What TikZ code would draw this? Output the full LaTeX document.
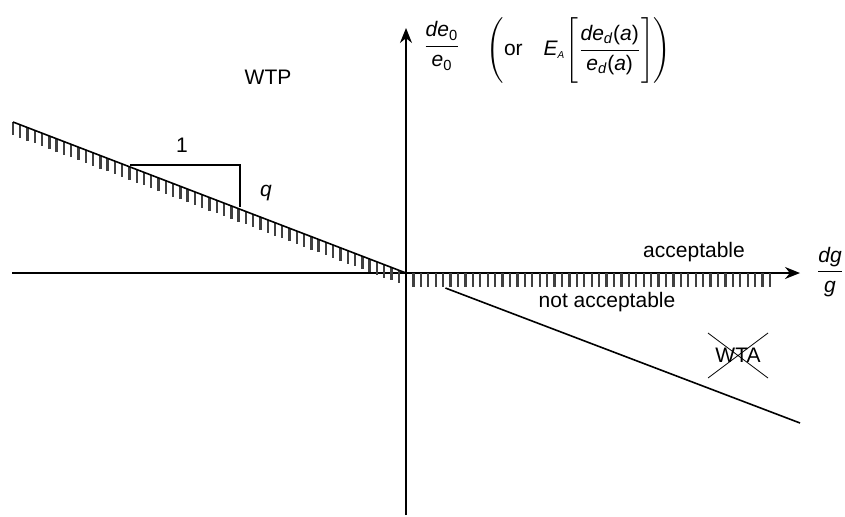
\documentclass[tikz,border=0pt]{standalone}
\usepackage{amsmath}
\usepackage{fontspec}
\setmainfont{Liberation Sans}
\usetikzlibrary{arrows.meta,calc}

\begin{document}
\begin{tikzpicture}[x=0.5pt,y=-0.5pt,>={Stealth[length=7.5pt,width=6pt]},
 axis/.style={->,line width=.8pt},
 edge/.style={line width=.8pt},
 hatch/.style={line width=1.2pt,black!75},
 lbl/.style={font=\fontsize{10.5}{12}\selectfont,inner sep=1pt}]
\useasboundingbox (0,0) rectangle (845,516);
% axes
\coordinate (O) at (406,273);
\coordinate (xstart) at (12,273);
\coordinate (xend) at (800,273);
\coordinate (ybot) at (406,515);
\coordinate (ytop) at (406,28);
\draw[edge] (xstart)--(O);
\draw[axis] (O)--(xend);
\draw[axis] (ybot)--(ytop);
% WTP boundary with hatching
\coordinate (wtp) at (13,122);
\coordinate (hend) at (770,273);
\coordinate (wta) at (800,423);
\foreach \i in {0,...,53} \draw[hatch] ($(wtp)!\i/54!(O)$)--++(0,13);
\foreach \i in {1,...,49} \draw[hatch] ($(O)!\i/49!(hend)$)--++(0,14);
\draw[edge] (wtp)--(O);
\draw[edge] ($(O)!0.1!(wta)$)--(wta);
% slope triangle
\coordinate (ta) at (130,165);
\coordinate (tb) at (240,165);
\coordinate (tc) at (240,207);
\draw[line width=.6pt] (ta)--(tb)--(tc);
\node[lbl] (one) at (182,145) {1};
\node[lbl] (q) at (266,193) {\textit{q}};
% labels
\node[lbl] (wtplbl) at (268,77) {WTP};
\node[lbl] (acc) at (694,252) {acceptable};
\node[lbl] (nacc) at (607,302) {not acceptable};
\node[lbl] (wtalbl) at (738,355) {WTA};
\draw[line width=.4pt] (708,333)--(768,378) (708,378)--(768,333);
\node[lbl] (ylbl) at (442,46) {$\dfrac{\textit{de}_{\textup{0}}}{\textit{e}_{\textup{0}}}$};
\node[lbl,inner sep=0pt] (yalt) at (579,50) {$\Biggl(\text{or}\quad \textit{E}_{\textit{\tiny A}}\Biggl[\dfrac{\textit{de}_{\textit{d}}\textup{(}\textit{a}\textup{)}}{\textit{e}_{\textit{d}}\textup{(}\textit{a}\textup{)}}\Biggr]\Biggr)$};
\node[lbl] (xlbl) at (830,272) {$\dfrac{\textit{dg}}{\textit{g}}$};
\end{tikzpicture}
\end{document}
